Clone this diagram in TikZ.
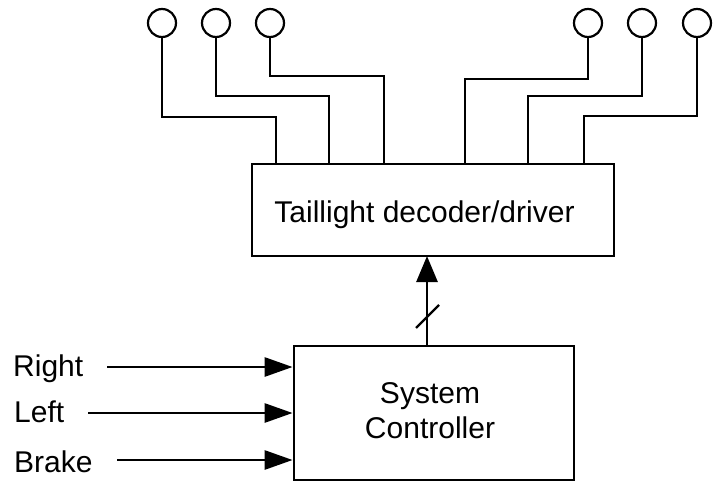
\documentclass[tikz,border=0pt]{standalone}
\usepackage{fontspec}
\setmainfont{Liberation Sans}
\usetikzlibrary{arrows.meta}

\tikzset{
  wire/.style={line width=2.8pt, line join=miter},
  blockbox/.style={draw, line width=2.8pt, inner sep=0pt},
  lamp/.style={draw, circle, line width=2.2pt, minimum size=28pt, inner sep=0pt},
  txt/.style={font=\fontsize{30}{36}\selectfont, inner sep=0pt},
  sig/.style={line width=2.8pt, -{Triangle[length=28pt,width=19pt]}},
}

\begin{document}
\begin{tikzpicture}[x=1pt, y=-1pt]
  \useasboundingbox (0,0) rectangle (719,482);

  % decoder / driver block
  \node[blockbox, minimum width=362pt, minimum height=92pt] (dec) at (433,210) {};
  \node[txt, anchor=base] (declabel) at (424.5,222) {Taillight decoder/driver};

  % system controller block
  \node[blockbox, minimum width=280pt, minimum height=134pt] (sc) at (434,413) {};
  \node[txt, anchor=base] (sclabel1) at (430,403) {System};
  \node[txt, anchor=base] (sclabel2) at (430,438) {Controller};

  % taillight lamps
  \node[lamp] (l1) at (162,23) {};
  \node[lamp] (l2) at (216,23) {};
  \node[lamp] (l3) at (270,23) {};
  \node[lamp] (r1) at (588,23) {};
  \node[lamp] (r2) at (642,23) {};
  \node[lamp] (r3) at (697,23) {};

  % driver outputs on the top edge of the decoder
  \coordinate (o1) at (276,164);
  \coordinate (o2) at (329,164);
  \coordinate (o3) at (384,164);
  \coordinate (o4) at (465,164);
  \coordinate (o5) at (528,164);
  \coordinate (o6) at (584,164);

  \draw[wire] (l1.south) |- (276,117) -- (o1);
  \draw[wire] (l2.south) |- (329,96) -- (o2);
  \draw[wire] (l3.south) |- (384,76) -- (o3);
  \draw[wire] (r1.south) |- (465,79) -- (o4);
  \draw[wire] (r2.south) |- (528,96) -- (o5);
  \draw[wire] (r3.south) |- (584,116) -- (o6);

  % bus from controller to decoder
  \coordinate (busfrom) at (427,346);
  \coordinate (busto) at (427,256);
  \draw[wire, -{Triangle[length=26pt,width=21pt]}] (busfrom) -- (busto);
  \draw[line width=2.4pt] (416,328) -- (439,305);

  % controller inputs
  \node[txt, anchor=base west] (inR) at (13,376) {Right};
  \node[txt, anchor=base west] (inL) at (14,422) {Left};
  \node[txt, anchor=base west] (inB) at (14,472) {Brake};

  \coordinate (sR) at (107,367);
  \coordinate (sL) at (88,413);
  \coordinate (sB) at (117,460);
  \draw[sig] (sR) -- (sR -| sc.west);
  \draw[sig] (sL) -- (sL -| sc.west);
  \draw[sig] (sB) -- (sB -| sc.west);
\end{tikzpicture}
\end{document}
